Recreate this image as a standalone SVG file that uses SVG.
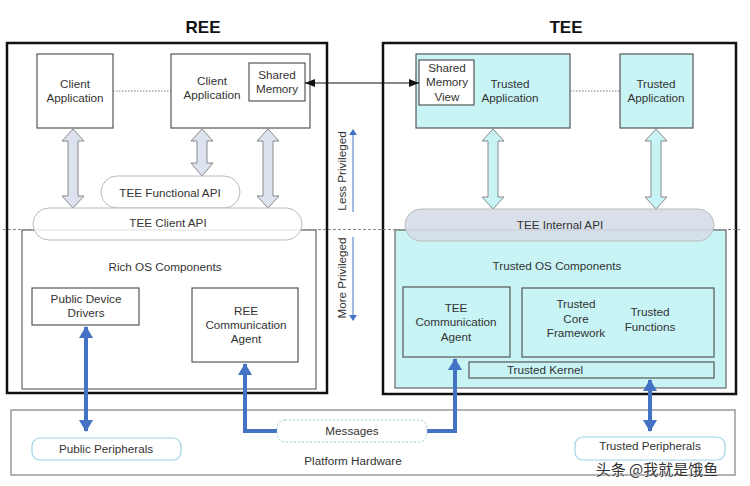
<svg xmlns="http://www.w3.org/2000/svg" width="750" height="486" viewBox="0 0 750 486">
<defs>
<style>
text{font-family:"Liberation Sans",Arial,sans-serif;font-size:11.7px;fill:#333;text-anchor:middle}
.title{font-size:17px;font-weight:bold;fill:#111}
.outer{fill:none;stroke:#111;stroke-width:2.5}
.box{fill:#fff;stroke:#555;stroke-width:1.2}
.tbox{fill:#c8f4f6;stroke:#555;stroke-width:1.2}
.fat{fill:#dde3ee;stroke:#888;stroke-width:1}
.fatc{fill:#c8f4f6;stroke:#888;stroke-width:1}
.blue{stroke:#4472c4;stroke-width:4;fill:none}
.pill{fill:#fff;fill-opacity:0.85;stroke:#bbb;stroke-width:1}
</style>
<marker id="bh" viewBox="0 0 12 14" refX="11" refY="7" markerWidth="12" markerHeight="14" markerUnits="userSpaceOnUse" orient="auto-start-reverse"><path d="M0,0 L12,7 L0,14 Z" fill="#4472c4"/></marker>
<marker id="kh" viewBox="0 0 10 8" refX="10" refY="4" markerWidth="10" markerHeight="8" markerUnits="userSpaceOnUse" orient="auto-start-reverse"><path d="M0,0 L10,4 L0,8 Z" fill="#111"/></marker>
<marker id="sh" viewBox="0 0 6 8" refX="5" refY="4" markerWidth="6" markerHeight="8" markerUnits="userSpaceOnUse" orient="auto"><path d="M0,0 L6,4 L0,8 Z" fill="#4472c4"/></marker>
</defs>
<rect width="750" height="486" fill="#fff"/>

<g id="titles">
<text class="title" x="203" y="33">REE</text>
<text class="title" x="566" y="33">TEE</text>
</g>

<g id="platform">
<rect x="11" y="410" width="724" height="65" fill="#fff" stroke="#999" stroke-width="1.5"/>
<text x="353" y="465">Platform Hardware</text>
</g>

<g id="ree">
<rect class="outer" x="7" y="43" width="320" height="350"/>
<rect x="22" y="230" width="294" height="159" fill="#fff" stroke="#666" stroke-width="1.2"/>
</g>
<g id="tee">
<rect class="outer" x="383" y="43" width="353" height="351"/>
<rect x="395" y="230" width="331" height="158" fill="#c8f4f6" stroke="#666" stroke-width="1.2"/>
</g>

<line x1="3" y1="229.5" x2="740" y2="229.5" stroke="#888" stroke-width="1" stroke-dasharray="3,2"/>

<g id="client-app-1">
<rect class="box" x="37" y="54" width="76" height="74"/>
<text x="75" y="88">Client</text><text x="75" y="102">Application</text>
</g>
<g id="client-app-2">
<rect class="box" x="171" y="54" width="139" height="74"/>
<text x="212" y="85">Client</text><text x="212" y="99">Application</text>
</g>
<g id="shared-memory">
<rect class="box" x="249" y="63" width="56" height="38"/>
<text x="277" y="79">Shared</text><text x="277" y="93">Memory</text>
</g>

<g id="trusted-app-1">
<rect class="tbox" x="416" y="54" width="154" height="74"/>
<text x="510" y="88">Trusted</text><text x="510" y="102">Application</text>
</g>
<g id="shared-memory-view">
<rect x="419" y="60" width="55" height="45" fill="#fff" stroke="#555" stroke-width="1.2"/>
<text x="447" y="72">Shared</text><text x="447" y="86">Memory</text><text x="447" y="101">View</text>
</g>
<g id="trusted-app-2">
<rect class="tbox" x="620" y="54" width="73" height="74"/>
<text x="656" y="88">Trusted</text><text x="656" y="102">Application</text>
</g>

<g id="connectors">
<line x1="113" y1="91" x2="171" y2="91" stroke="#777" stroke-width="1" stroke-dasharray="1.5,1.5"/>
<line x1="570" y1="91" x2="620" y2="91" stroke="#777" stroke-width="1" stroke-dasharray="1.5,1.5"/>
<line x1="305" y1="83" x2="419" y2="83" stroke="#111" stroke-width="1.2" marker-start="url(#kh)" marker-end="url(#kh)"/>
<path class="fat" d="M73,129 L84,141 L78,141 L78,196 L84,196 L73,208 L62,196 L68,196 L68,141 L62,141 Z"/>
<path class="fat" d="M202,129 L213,141 L207,141 L207,163 L213,163 L202,176 L191,163 L197,163 L197,141 L191,141 Z"/>
<path class="fat" d="M268,129 L279,141 L273,141 L273,196 L279,196 L268,208 L257,196 L263,196 L263,141 L257,141 Z"/>
<path class="fatc" d="M493,129 L504,141 L498,141 L498,197 L504,197 L493,209 L482,197 L488,197 L488,141 L482,141 Z"/>
<path class="fatc" d="M656,129 L667,141 L661,141 L661,197 L667,197 L656,209 L645,197 L651,197 L651,141 L645,141 Z"/>
<line class="blue" x1="86" y1="327" x2="86" y2="431" marker-start="url(#bh)" marker-end="url(#bh)"/>
<path class="blue" d="M277,431 L245,431 L245,364" marker-end="url(#bh)"/>
<path class="blue" d="M427,431 L455,431 L455,359" marker-end="url(#bh)"/>
<line class="blue" x1="650" y1="380" x2="650" y2="431" marker-start="url(#bh)" marker-end="url(#bh)"/>
<line x1="353" y1="212" x2="353" y2="130" stroke="#4472c4" stroke-width="1" marker-end="url(#sh)"/>
<line x1="353" y1="237" x2="353" y2="320" stroke="#4472c4" stroke-width="1" marker-end="url(#sh)"/>
</g>

<g id="tee-functional-api">
<rect class="pill" x="101" y="176" width="139" height="32" rx="16"/>
<text x="170" y="197">TEE Functional API</text>
</g>
<g id="tee-client-api">
<rect class="pill" x="33" y="208" width="269" height="32" rx="16"/>
<text x="168" y="227">TEE Client API</text>
</g>
<g id="tee-internal-api">
<rect x="405" y="209" width="309" height="32" rx="16" fill="#d5dde8" fill-opacity="0.9" stroke="#bbb" stroke-width="1"/>
<text x="560" y="229">TEE Internal API</text>
</g>

<g id="privilege">
<text x="0" y="0" transform="translate(346,171) rotate(-90)">Less Privileged</text>
<text x="0" y="0" transform="translate(346,278) rotate(-90)">More Privileged</text>
</g>

<g id="rich-os">
<text x="165" y="271">Rich OS Components</text>
</g>
<g id="public-device-drivers">
<rect class="box" x="32" y="288" width="107" height="37"/>
<text x="86" y="303">Public Device</text><text x="86" y="317">Drivers</text>
</g>
<g id="ree-comm-agent">
<rect class="box" x="192" y="288" width="106" height="74"/>
<text x="246" y="315">REE</text><text x="246" y="329">Communication</text><text x="246" y="343">Agent</text>
</g>

<g id="trusted-os">
<text x="557" y="270">Trusted OS Components</text>
</g>
<g id="tee-comm-agent">
<rect class="tbox" x="403" y="287" width="107" height="70"/>
<text x="456" y="312">TEE</text><text x="456" y="326">Communication</text><text x="456" y="341">Agent</text>
</g>
<g id="trusted-core-framework">
<rect class="tbox" x="522" y="288" width="192" height="69"/>
<text x="576" y="308">Trusted</text><text x="576" y="323">Core</text><text x="576" y="337">Framework</text>
<text x="650" y="316">Trusted</text><text x="650" y="331">Functions</text>
</g>
<g id="trusted-kernel">
<rect class="tbox" x="469" y="362" width="245" height="16"/>
<text x="545" y="374">Trusted Kernel</text>
</g>

<g id="public-peripherals">
<rect x="32" y="438" width="149" height="22" rx="8" fill="#fff" stroke="#9fd3e6" stroke-width="1.2"/>
<text x="106" y="453">Public Peripherals</text>
</g>
<g id="messages">
<rect x="277" y="420" width="150" height="22" rx="8" fill="#fff" stroke="#9fc6d6" stroke-width="1" stroke-dasharray="2,2"/>
<text x="352" y="435">Messages</text>
</g>
<g id="trusted-peripherals">
<rect x="575" y="437" width="150" height="23" rx="8" fill="#fff" stroke="#9fd3e6" stroke-width="1.2"/>
<text x="650" y="450">Trusted Peripherals</text>
</g>

<g id="watermark">
<text x="657" y="475" style="font-family:'Noto Sans CJK SC',sans-serif;font-size:15px;fill:#333;stroke:#fff;stroke-width:0.6;paint-order:stroke">头条 @我就是饿鱼</text>
</g>
</svg>
